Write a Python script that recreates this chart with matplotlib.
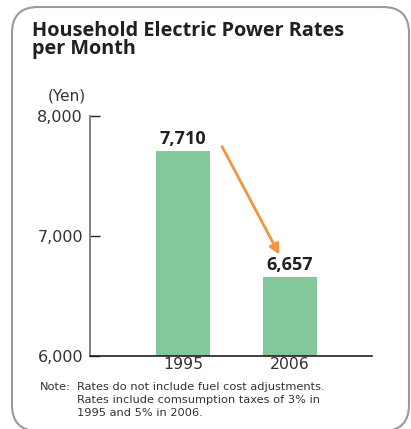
import matplotlib
matplotlib.use("Agg")
import matplotlib.pyplot as plt
from matplotlib.patches import FancyBboxPatch

years = ["1995", "2006"]
rates = [7710, 6657]
value_labels = ["7,710", "6,657"]
ytick_values = [6000, 7000, 8000]
ytick_labels = ["6,000", "7,000", "8,000"]

plt.rcParams["font.family"] = ["DejaVu Sans"]
bold_family = ["Open Sans", "DejaVu Sans"]
text_color = "#231f20"
label_color = "#333333"
bar_color = "#82c89a"
arrow_color = "#f39440"

fig = plt.figure(figsize=(4.11, 4.29), dpi=100)

# rounded frame around the whole panel (inch coordinates)
frame = FancyBboxPatch((0.12, -0.02), 3.97, 4.24,
                       boxstyle="round,pad=0,rounding_size=0.26",
                       transform=fig.dpi_scale_trans, fill=False,
                       edgecolor="#9a9a9a", linewidth=1.5)
fig.patches.append(frame)

fig.text(32 / 411, 1 - 21 / 429, "Household Electric Power Rates\nper Month",
         ha="left", va="top", fontsize=14.3, fontweight="bold",
         family=bold_family, color=text_color, linespacing=0.88)

ax = fig.add_axes([90 / 411, 73 / 429, 282 / 411, 240 / 429])
x = list(range(len(years)))
ax.bar(x, rates, width=0.505, color=bar_color, zorder=2)
ax.set_xlim(-0.869, 1.766)
ax.set_ylim(6000, 8000)

for s in ("top", "right"):
    ax.spines[s].set_visible(False)
ax.spines["left"].set_color("#7a7a7a")
ax.spines["left"].set_linewidth(1.3)
ax.spines["bottom"].set_color(text_color)
ax.spines["bottom"].set_linewidth(1.2)

ax.set_yticks(ytick_values)
ax.set_yticklabels(ytick_labels)
ax.tick_params(axis="y", direction="in", length=7.5, width=1.0,
               color=text_color, labelsize=11.5, labelcolor=label_color, pad=5)
ax.set_xticks(x)
ax.set_xticklabels(years)
ax.tick_params(axis="x", length=0, labelsize=11.3, labelcolor=label_color, pad=1)

for xi, v, lab in zip(x, rates, value_labels):
    ax.annotate(lab, (xi, v), xytext=(0, 2), textcoords="offset points",
                ha="center", va="bottom", fontsize=13, fontweight="bold",
                family=bold_family, color=text_color)

# downward arrow from the 1995 label to the 2006 label
ax.annotate("", xy=(0.90, 6845), xytext=(0.365, 7745),
            arrowprops=dict(arrowstyle="-|>,head_length=0.6,head_width=0.3",
                            color=arrow_color, lw=2.0, shrinkA=0, shrinkB=0))

fig.text(86 / 411, 1 - 96 / 429, "(Yen)", ha="right", va="center",
         fontsize=11, color=label_color)

note_top = 1 - 382.5 / 429
fig.text(40 / 411, note_top, "Note:",
         ha="left", va="top", fontsize=8.2, color=label_color)
fig.text(77 / 411, note_top,
         "Rates do not include fuel cost adjustments.\n"
         "Rates include comsumption taxes of 3% in\n1995 and 5% in 2006.",
         ha="left", va="top", fontsize=8.2, color=label_color, linespacing=1.33)

fig.savefig("out.png", dpi=100)
